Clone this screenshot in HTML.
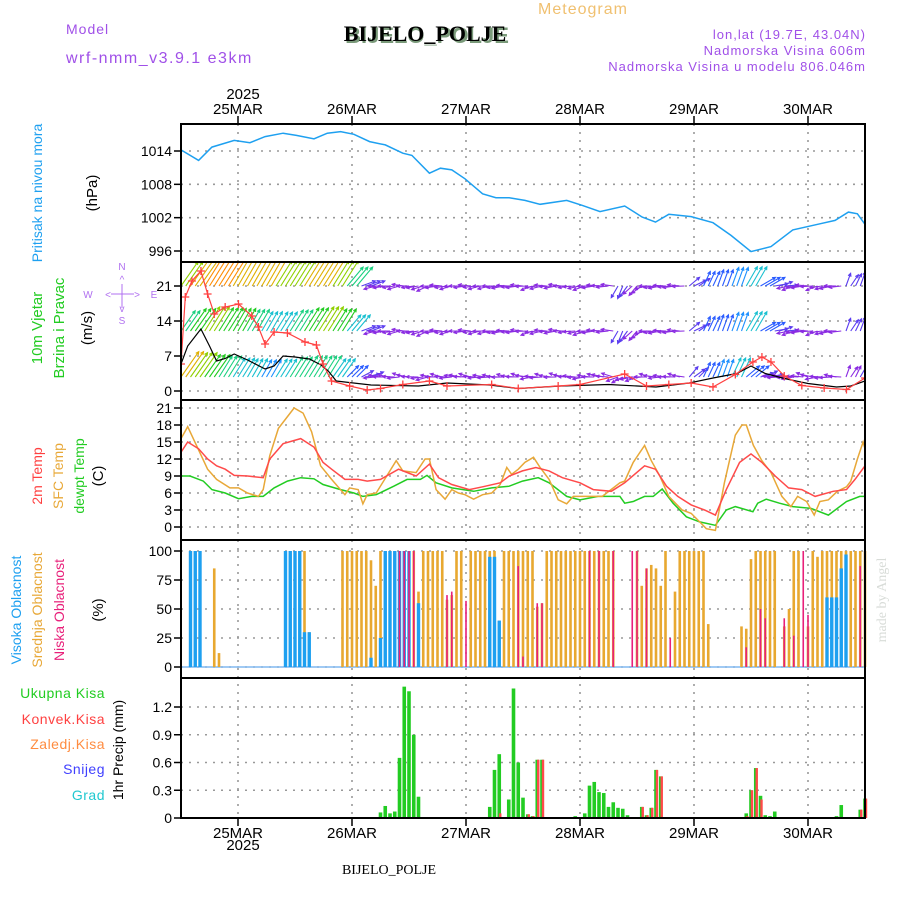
<!DOCTYPE html>
<html><head><meta charset="utf-8"><style>
body{margin:0;background:#fff}
svg{display:block}
text{font-family:"Liberation Sans",sans-serif}
</style></head><body>
<svg id="c" width="900" height="900" xmlns="http://www.w3.org/2000/svg">
<rect width="900" height="900" fill="#fff"/>
<text x="66" y="34" font-size="14" fill="#a050e8" letter-spacing="1">Model</text>
<text x="66" y="63" font-size="16" fill="#a050e8" letter-spacing="1.5">wrf-nmm_v3.9.1 e3km</text>
<text x="427" y="43" font-size="22" font-weight="bold" text-anchor="middle" fill="#7a9a7a" font-family="Liberation Serif">BIJELO_POLJE</text>
<text x="425" y="41" font-size="22" font-weight="bold" text-anchor="middle" fill="#000" style="font-family:'Liberation Serif',serif">BIJELO_POLJE</text>
<text x="583" y="14" font-size="16" text-anchor="middle" fill="#f0c070" letter-spacing="1">Meteogram</text>
<text x="866" y="39" font-size="13" text-anchor="end" fill="#a050e8" letter-spacing="1">lon,lat (19.7E, 43.04N)</text>
<text x="866" y="55" font-size="13" text-anchor="end" fill="#a050e8" letter-spacing="1">Nadmorska Visina 606m</text>
<text x="866" y="71" font-size="13" text-anchor="end" fill="#a050e8" letter-spacing="1">Nadmorska Visina u modelu 806.046m</text>
<text x="243" y="99" font-size="15" text-anchor="middle">2025</text>
<text x="243" y="850" font-size="15" text-anchor="middle">2025</text>
<text x="389" y="874" font-size="14" text-anchor="middle" style="font-family:'Liberation Serif',serif">BIJELO_POLJE</text>
<text transform="translate(886,600) rotate(-90)" font-size="14" text-anchor="middle" fill="#d8dcd8" style="font-family:'Liberation Serif',serif">made by Angel</text>
<g id="labels"></g>
<g id="plots"></g>
</svg>
<script>
// ---------- data ----------
const dayLabels=["25MAR","26MAR","27MAR","28MAR","29MAR","30MAR"];
const presTicks=[1014,1008,1002,996];
const windTicks=[21,14,7,0];
const tempTicks=[21,18,15,12,9,6,3,0];
const cloudTicks=[100,75,50,25,0];
const precTicks=["1.2","0.9","0.6","0.3","0"];
const presHours=[0,3.7,6.5,11.2,14.5,17.7,21.5,24.3,28,30.8,33.6,36.4,39.7,43,46.7,48.6,52.3,54.6,57,59.8,63.5,66.3,69.1,72.4,75.6,81.2,84.5,88.2,93.4,97.1,99.9,102.7,107.4,112,115.8,120,124.2,128.8,134.5,137.7,140.5,142.4,144];
const presVals=[1014.2,1012.3,1014.7,1015.9,1015.5,1016.6,1017.2,1016.8,1016.2,1017.2,1017.5,1017,1015.7,1015.1,1013.6,1013.2,1010,1010.9,1010.6,1009,1006.3,1005.6,1005.6,1005.1,1004.4,1005.1,1004.2,1003.1,1004.1,1002.1,1001.2,1002.6,1002.2,1001.1,998.8,995.9,996.8,999.8,1000.9,1001.5,1003,1002.7,1000.8];
const gustHours=[0,0.9,2.3,4.2,5.6,7,9.3,12.1,14.9,16.3,17.7,19.6,22.4,26.1,28.5,29.9,31.7,35.5,39.2,42,46.7,52.3,56,65.4,71,79.4,84,93.4,98,102.7,107.4,112,116.7,120.4,122.3,124.2,127,130.7,135.4,140.1,144];
const gustVals=[5.4,18.8,22,24,19.4,15.4,16.8,17.4,15,12.8,9.4,11.8,11.6,9.8,9.2,5.4,2,1,0.2,0.5,1.3,2,1,1.3,0.5,1,1.3,3.4,1,1.3,1.6,0.8,3.3,5.8,6.8,5.8,3,1.1,0.6,0.3,2.6];
const speedHours=[0,1.4,4.2,6,7.5,9.3,11.2,14,17.7,19.6,21.5,24,27,29.5,31,32.7,40,50,56,65,71,80,90,100,107,112,117,120,123,127,132,138,141,144];
const speedVals=[5.4,9,12.4,9,6,6.5,7.4,6.2,4.4,5,7,6.8,6.4,5.2,4,2,1.2,1,1.6,1.2,0.5,1,1.3,0.8,1.6,2.6,3.5,5,3.5,2.5,1.5,0.8,1,2];
// wind arrows, 3-hourly (h = 0..144)
const windStep=3;
const windBase=[21,12,2.8];
const spdTop=[19,21,22,22,21,20,20,19,19,20,20,19,15,7,5,5,5,5,5,5,5,5,5,5,5,5,5,5,5,5,5,6,5,5,5,5,6,8,9,11,13,9,6,5,5,5,5,6,7];
const dirTop=[55,55,58,58,60,60,60,58,58,58,58,58,50,20,185,190,180,195,185,190,180,185,190,185,180,190,185,180,190,185,180,240,220,190,185,180,30,65,70,70,60,30,10,190,185,195,185,60,70];
const spdMid=[15,17,18,17,16,15,13,13,15,17,18,16,12,7,5,5,5,5,5,5,5,5,5,5,5,5,5,5,5,5,5,6,5,5,5,5,6,8,9,11,13,9,6,5,5,5,5,6,7];
const dirMid=[55,55,58,58,60,60,60,58,58,58,58,58,50,20,185,190,180,195,185,190,180,185,190,185,180,190,185,180,190,185,180,240,220,190,185,180,30,65,70,70,60,30,10,190,185,195,185,60,70];
const spdLow=[20,19,17,15,13,12,11,12,14,15,15,13,8,6,5,5,5,5,5,5,5,5,5,5,5,5,5,5,5,5,5,5,5,5,5,5,6,8,10,12,9,6,5,5,5,5,5,5,6];
const dirLow=[55,55,55,58,58,60,60,58,58,58,58,55,45,20,175,180,170,185,175,180,170,175,180,175,170,180,175,170,180,175,170,200,190,175,180,170,40,65,70,65,40,20,175,180,170,185,175,60,70];
const sfcHours=[0,1.4,5.6,7.5,10.3,12.1,14,16.3,17.3,18.7,20.5,23.8,25.7,27.5,29.4,31.7,34.5,35.5,37.3,38.3,39.2,41.1,45.3,46.7,49.5,51.4,52.3,53.7,55.6,57,58.4,59.8,61.6,63.5,65.4,67.2,68.6,69.6,71,72.4,74.2,75.6,77.5,79.4,81.2,82.6,84,88.7,92.4,93.4,95.2,97.6,99,100.8,102.7,105.5,107.4,109.2,110.6,112.5,114.4,116.7,118.1,119,120.5,122.3,124.2,126.5,128.4,129.8,131.7,133.3,134.5,136.3,138.2,140.1,141,142.4,143.6,144];
const sfcVals=[15.6,17.7,10.2,8.4,6.9,6.9,6,5.4,6.6,12.6,17.4,21,20.1,16.8,10.8,8.4,5.7,6.9,6.6,4.1,5.7,6,11.7,9.9,9.6,12,12,6.6,4.9,6.6,6,5.7,4.9,5.7,6,7.5,10.5,9.3,10.2,11.4,12.3,10.5,8.4,4.8,4.1,5.4,5.4,5.4,7.8,8.1,11.4,14.4,11.7,9,5.4,3,2.4,0.9,-0.3,-0.6,7.8,16.2,18,18,14.4,11.7,9.6,5.4,3.6,5.4,4.5,2.1,4.5,4.8,6.3,7.1,8.1,12,15,13.8];
const t2Hours=[0,1.4,3.7,5.6,7.5,9.3,11.2,14,17.3,18.7,21.5,25.2,28,29.9,31.7,34.5,37.3,39.2,42,45.8,49.5,52.3,54.2,57,60.7,63.5,67.2,69.1,71.9,74.7,77.5,80.3,84,86.8,90.6,93.4,97.6,99.9,102.2,104.6,107.4,110.2,112.5,114.8,117.6,120,122.3,125.1,127.9,130.7,133.5,137.3,140.1,141.9,144];
const t2Vals=[13.2,15,13.8,12,10.8,10.2,9.1,9,8.7,12,14.7,15.6,14.1,11.4,10.2,8.4,8.4,8.1,8.4,10.2,9,11.1,8.7,7.5,6.6,7.1,7.8,9,9.9,10.5,9.9,8.7,7.8,6.6,6.3,7.8,10.8,10.2,7.2,5.4,3.9,3,2.1,6.6,11.4,12.9,11.4,9,6.9,6.6,5.4,6.3,6.6,8.4,10.8];
const dewHours=[0,1.9,4.7,6.5,9.3,12.1,14.9,17.3,19.6,22.4,25.2,28,29.9,33.6,36.4,38.3,41.1,44.8,47.6,50.4,51.8,53.7,57,61.6,65.4,69.1,71.9,75.2,77.5,81.2,84,87.8,92.4,93.4,95.2,97.6,99.4,101.3,103.6,106.4,109.2,112.5,114.8,116.7,120.4,121.4,123.2,126,128.8,132.6,136.3,140.1,142.9,144];
const dewVals=[9,9,8.1,6.6,6,5,5.4,5.4,6.9,8.1,8.7,8.5,7.5,6.6,6,5.4,5.7,7.2,8.4,8.4,9.1,7.8,6.9,6.3,6.9,7.2,8.1,8.7,7.8,5.4,4.8,5.4,5.4,4.2,4.5,5.4,5.4,6.7,4.2,1.8,0.9,0.3,3,3.6,2.7,4.2,4.9,4.2,3.6,3.3,2.1,4.5,5.4,5.4];
const highHours=[2,3,4,22,23,24,25,26,27,40,42,43,44,45,46,47,48,50,65,66,67,136,137,138,139,140];
const highVals=[100,100,100,100,100,100,100,30,30,8,25,100,100,100,100,100,100,55,95,95,40,60,60,60,85,97];
const midHours=[7,8,25,26,27,34,35,36,37,38,39,40,41,42,43,44,45,46,47,48,49,50,51,52,53,54,55,56,57,58,59,61,62,63,64,65,66,67,68,69,70,71,72,73,74,75,76,77,78,79,80,81,82,83,84,85,86,87,88,89,90,91,96,97,98,99,100,101,102,104,105,106,107,108,109,110,111,118,119,120,121,122,123,124,125,127,128,129,130,132,133,134,135,136,137,138,139,140,141,142,143,144];
const midVals=[85,12,100,100,30,100,100,100,100,100,100,92,70,100,85,100,100,100,100,100,100,65,100,100,100,100,100,58,62,100,100,100,100,100,100,100,100,40,100,100,100,100,100,100,100,52,55,100,100,100,100,100,100,100,100,100,100,100,100,100,100,100,100,70,85,88,85,70,100,65,100,100,100,100,100,100,37,35,33,93,100,100,100,100,100,35,50,100,100,35,100,95,100,100,100,100,100,100,100,100,100,100,100];
const lowHours=[46,47,48,49,56,57,60,71,72,75,76,86,88,91,95,96,98,103,119,122,123,127,129,131,132,143];
const lowVals=[100,100,100,100,62,65,57,87,9,55,55,100,100,100,100,100,85,25,17,50,42,42,27,100,45,87];
const precHours=[42,43,44,45,46,47,48,49,50,64,65,66,67,69,70,71,72,73,74,75,76,77,83,85,86,87,88,89,90,91,92,93,94,97,98,99,100,101,118,119,120,121,122,123,124,125,138,139,140,143,144];
const totalPrec=[0.06,0.13,0.05,0.07,0.65,1.42,1.37,0.9,0.23,0.01,0.12,0.52,0.69,0.2,1.4,0.6,0.22,0.04,0.02,0.63,0.63,0.01,0.02,0.05,0.35,0.39,0.28,0.27,0.12,0.17,0.11,0.1,0.03,0.12,0.03,0.11,0.52,0.45,0.01,0.05,0.3,0.54,0.24,0.03,0.02,0.07,0.02,0.14,0.01,0.09,0.21];
const convPrec=[0,0,0,0,0,0,0,0,0,0,0,0,0.05,0,0,0,0,0.04,0.02,0.63,0.63,0.01,0,0,0,0,0,0,0,0,0,0,0,0.12,0.03,0.11,0.52,0.45,0.01,0.02,0.3,0.54,0.2,0,0,0,0,0,0,0.09,0.21];

// ---------- geometry ----------
const NS="http://www.w3.org/2000/svg";
const L=181,R=865;
const X=h=>L+h*(R-L)/144;
const P={pres:[124,262],wind:[262,400],temp:[400,540],cloud:[540,678],prec:[678,818]};
const Yp=v=>151+(1014-v)*100/18;
const Yw=v=>391-v*5;
const Yt=v=>527-v*119/21;
const Yc=v=>667-v*1.16;
const Yr=v=>818-v*92.5;
const plots=document.getElementById('plots');
const labels=document.getElementById('labels');
function mk(tag,attrs,parent){const e=document.createElementNS(NS,tag);for(const k in attrs)e.setAttribute(k,attrs[k]);(parent||plots).appendChild(e);return e;}
function txt(s,attrs,parent){const e=mk('text',attrs,parent);e.textContent=s;return e;}

const defs=mk('defs',{});
for(const k in P){const cp=mk('clipPath',{id:'clip-'+k},defs);mk('rect',{x:L,y:P[k][0],width:R-L,height:P[k][1]-P[k][0]},cp);}

function hgrid(panel,vals,yf,lbls){
  const g=mk('g',{});
  
  
  vals.forEach((v,i)=>{const y=yf(+v);
    mk('line',{x1:L,x2:R,y1:y,y2:y,stroke:'#999','stroke-width':1.6,'stroke-dasharray':'2,6'},g);
    mk('line',{x1:L-7,x2:L,y1:y,y2:y,stroke:'#000','stroke-width':1.5},g);
    const t=txt(String(lbls?lbls[i]:v),{x:L-9,y:y+5,'font-size':14,'text-anchor':'end'},g);
    
    
  });
}
hgrid('pressure',presTicks,Yp);
hgrid('wind',windTicks,Yw);
hgrid('temp',tempTicks,Yt);
hgrid('cloud',cloudTicks,Yc);
hgrid('precip',precTicks,Yr,precTicks);
dayLabels.forEach((d,i)=>{const x=X(12+24*i);
  mk('line',{x1:x,x2:x,y1:124,y2:818,stroke:'#999','stroke-width':1.6,'stroke-dasharray':'2,6'});
  mk('line',{x1:x,x2:x,y1:116,y2:124,stroke:'#000','stroke-width':1.5});
  mk('line',{x1:x,x2:x,y1:818,y2:826,stroke:'#000','stroke-width':1.5});
  const t1=txt(d,{x:x,y:114,'font-size':15,'text-anchor':'middle'});
  
  
  const t2=txt(d,{x:x,y:838,'font-size':15,'text-anchor':'middle'});
  
  
});

function line(hs,vs,yf,color,name,clip,w){
  const pts=hs.map((h,i)=>X(h).toFixed(1)+','+yf(vs[i]).toFixed(1)).join(' ');
  const e=mk('polyline',{points:pts,fill:'none',stroke:color,'stroke-width':w||1.5,'clip-path':'url(#clip-'+clip+')'});
  
  
  return e;
}
line(presHours,presVals,Yp,'#1ea0f0','pressure-line','pres',1.5);

function spdColor(s){
  if(s<=5.5)return '#8a2be2'; if(s<=7)return '#5a3cf0'; if(s<=9)return '#2a5cff'; if(s<=11)return '#1e90ff';
  if(s<=13)return '#19c0d0'; if(s<=15)return '#1ad080'; if(s<=17)return '#22cc22'; if(s<=19)return '#90d000';
  if(s<=21)return '#e0b000'; if(s<=23)return '#ff8c00'; return '#ff3030';
}
const wg=mk('g',{'clip-path':'url(#clip-wind)'});


[[spdTop,dirTop],[spdMid,dirMid],[spdLow,dirLow]].forEach((row,ri)=>{
  const y0=Yw(windBase[ri]);
  for(let h=0;h<=144;h++){
    const i=Math.min(row[0].length-1,Math.round(h/windStep));
    const s=row[0][i];
    const jit=((h*37)%11-5)*2;
    const a=(row[1][i]+(s<=6?jit:0))*Math.PI/180;
    const x0=X(h);const len=6+s*1.25;
    const x1=x0+len*Math.cos(a),y1=y0-len*Math.sin(a);
    const c=spdColor(s);
    const hl=3.5;const b1=a+Math.PI-0.45,b2=a+Math.PI+0.45;
    const ar=mk('path',{d:`M${x0},${y0}L${x1},${y1}M${x1+hl*Math.cos(b1)},${y1-hl*Math.sin(b1)}L${x1},${y1}L${x1+hl*Math.cos(b2)},${y1-hl*Math.sin(b2)}`,stroke:c,'stroke-width':1.1,fill:'none'},wg);
    
    
  }
});
line(speedHours,speedVals,Yw,'#000','wind-speed-line','wind',1.2);
line(gustHours,gustVals,Yw,'#ff4040','wind-gust-line','wind',1.2);
const gg=mk('g',{'clip-path':'url(#clip-wind)'});


gustHours.forEach((h,i)=>{const x=X(h),y=Yw(gustVals[i]);
  const m=mk('path',{d:`M${x-4},${y}H${x+4}M${x},${y-4}V${y+4}`,stroke:'#ff4040','stroke-width':1.3},gg);
  
  
});

line(dewHours,dewVals,Yt,'#22cc22','dewpoint-line','temp',1.5);
line(sfcHours,sfcVals,Yt,'#e8a838','sfc-temp-line','temp',1.5);
line(t2Hours,t2Vals,Yt,'#ff4a4a','t2m-line','temp',1.5);

mk('line',{x1:L,x2:R,y1:Yc(0),y2:Yc(0),stroke:'#80b8f0','stroke-width':1.5});
function bars(hs,vs,color,w,name){
  hs.forEach((h,i)=>{const y=Yc(vs[i]);
    const b=mk('rect',{x:X(h)-w/2,y:y,width:w,height:Yc(0)-y,fill:color});
    
    
  });
}
bars(midHours,midVals,'#e8a830',2.6,'mid-cloud-bar');
bars(highHours,highVals,'#1ea0f0',3.4,'high-cloud-bar');
bars(lowHours,lowVals,'#e8207a',1.6,'low-cloud-bar');

precHours.forEach((h,i)=>{
  const y=Yr(totalPrec[i]);
  const b=mk('rect',{x:X(h)-1.8,y:y,width:3.6,height:818-y,fill:'#22cc22'});
  
  
  if(convPrec[i]>0){const yc=Yr(convPrec[i]);
    const c=mk('rect',{x:X(h)-0.2,y:yc,width:2.4,height:818-yc,fill:'#ff4a4a'});
    
    
  }
});

for(const k in P){const f=mk('rect',{x:L,y:P[k][0],width:R-L,height:P[k][1]-P[k][0],fill:'none',stroke:'#000','stroke-width':2});
  
  
}

function vlabel(s,x,y,color,size,name){
  const t=txt(s,{transform:`translate(${x},${y}) rotate(-90)`,'font-size':size||14,'text-anchor':'middle',fill:color},labels);
  
  
}
vlabel('Pritisak na nivou mora',42,193,'#1ea0f0',14,'pressure-title');
vlabel('(hPa)',97,193,'#000',15,'pressure-unit');
vlabel('10m Vjetar',42,328,'#22cc22',15,'wind-title');
vlabel('Brzina i Pravac',64,328,'#22cc22',15,'wind-subtitle');
vlabel('(m/s)',92,328,'#000',15,'wind-unit');
vlabel('2m Temp',42,476,'#ff4040',14,'t2m-title');
vlabel('SFC Temp',63,476,'#e8a838',14,'sfc-title');
vlabel('dewpt Temp',84,476,'#22cc22',14,'dewpt-title');
vlabel('(C)',103,476,'#000',15,'temp-unit');
vlabel('Visoka Oblacnost',21,610,'#1ea0f0',14,'high-cloud-title');
vlabel('Srednja Oblacnost',42,610,'#e8a838',14,'mid-cloud-title');
vlabel('Niska Oblacnost',64,610,'#e8207a',14,'low-cloud-title');
vlabel('(%)',103,610,'#000',15,'cloud-unit');
vlabel('1hr Precip (mm)',123,750,'#000',14,'precip-title');
[['Ukupna Kisa','#22cc22',698],['Konvek.Kisa','#ff4040',724],['Zaledj.Kisa','#ff8c40',749],['Snijeg','#4040ff',774],['Grad','#20c8d0',800]].forEach(([s,c,y])=>{
  const t=txt(s,{x:105,y:y,'font-size':14,'text-anchor':'end',fill:c,'letter-spacing':'0.5'},labels);
  
  
});
const cg=mk('g',{fill:'#b070f0','font-size':10,'text-anchor':'middle'},labels);


txt('N',{x:122,y:270},cg);txt('S',{x:122,y:324},cg);txt('W',{x:88,y:298},cg);txt('E',{x:154,y:298},cg);
txt('^',{x:122,y:283},cg);txt('v',{x:122,y:312},cg);txt('<',{x:108,y:298},cg);txt('>',{x:137,y:298},cg);
mk('path',{d:'M122,284V308M111,294H134',stroke:'#b070f0','stroke-width':1},cg);
</script>
</body></html>
